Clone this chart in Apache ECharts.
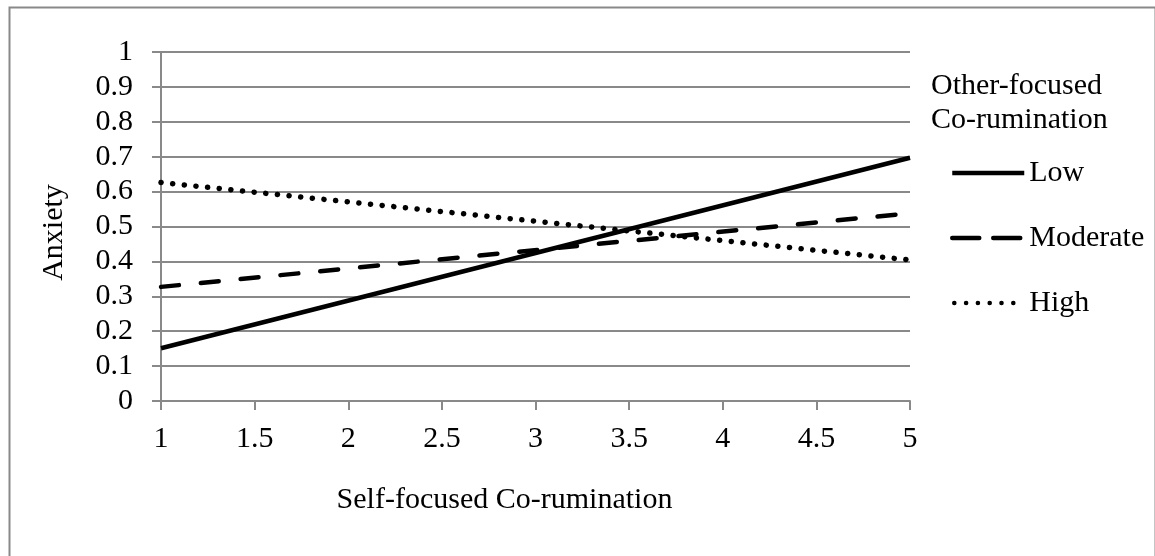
<!DOCTYPE html>
<html>
<head>
<meta charset="utf-8">
<script src="https://cdn.jsdelivr.net/npm/echarts@6/dist/echarts.min.js"></script>
<style>
  html, body { margin: 0; padding: 0; background: #fff; }
  #chart { width: 1155px; height: 556px; }
</style>
</head>
<body>
<div id="chart"></div>
<script>
// ---- data ----
const xValues = [1, 5];
const lowValues = [0.151, 0.697];
const moderateValues = [0.327, 0.538];
const highValues = [0.626, 0.404];
const seriesNames = ['Low', 'Moderate', 'High'];
const legendTitle = 'Other-focused\nCo-rumination';
const xTitle = 'Self-focused Co-rumination';
const yTitle = 'Anxiety';

const FONT = "'Liberation Serif', 'Times New Roman', serif";
const GRAY = '#898989';

const styles = [
  { color: '#000', width: 4.5, type: 'solid', cap: 'butt' },
  { color: '#000', width: 4.5, type: [18, 22], cap: 'round' },
  { color: '#000', width: 5.5, type: [0.1, 11.6], cap: 'round' }
];
const legendStyles = [
  { color: '#000', width: 4.5, type: 'solid', cap: 'butt' },
  { color: '#000', width: 4.5, type: [27, 14], cap: 'round' },
  { color: '#000', width: 4.5, type: [0.1, 11.7], cap: 'round', dashOffset: -2 }
];
const allValues = [lowValues, moderateValues, highValues];

function pairs(ys) { return xValues.map((x, i) => [x, ys[i]]); }

const chart = echarts.init(document.getElementById('chart'), null, { renderer: 'canvas' });
chart.setOption({
  animation: false,
  backgroundColor: '#fff',
  textStyle: { fontFamily: FONT, color: '#000' },
  graphic: [{
    type: 'rect',
    left: 7, top: 5,
    shape: { width: 1146, height: 570 },
    style: { fill: 'none', stroke: GRAY, lineWidth: 2 },
    silent: true
  }],
  title: {
    text: legendTitle,
    left: 926, top: 64,
    textStyle: { fontFamily: FONT, fontWeight: 'normal', fontSize: 30, color: '#000', lineHeight: 34 }
  },
  legend: {
    orient: 'vertical',
    left: 945, top: 153,
    itemWidth: 72, itemHeight: 14,
    itemGap: 35,
    itemStyle: { opacity: 0 },
    data: seriesNames.map((n, i) => ({ name: n, lineStyle: legendStyles[i], itemStyle: { opacity: 0 } })),
    textStyle: { fontFamily: FONT, fontSize: 30, color: '#000' }
  },
  grid: { left: 161, right: 245, top: 52, bottom: 155, containLabel: false },
  xAxis: {
    type: 'value', min: 1, max: 5, interval: 0.5,
    name: xTitle, nameLocation: 'middle', nameGap: 84,
    nameTextStyle: { fontFamily: FONT, fontSize: 30, color: '#000', padding: [0, 62, 0, 0] },
    axisLine: { show: true, lineStyle: { color: GRAY, width: 2 } },
    axisTick: { show: true, length: 9, inside: false, lineStyle: { color: GRAY, width: 2 } },
    axisLabel: { fontFamily: FONT, fontSize: 30, color: '#000', margin: 23 },
    splitLine: { show: false }
  },
  yAxis: {
    type: 'value', min: 0, max: 1, interval: 0.1,
    name: yTitle, nameLocation: 'middle', nameGap: 92,
    nameTextStyle: { fontFamily: FONT, fontSize: 30, color: '#000', padding: [0, 12, 0, 0] },
    axisLine: { show: true, lineStyle: { color: GRAY, width: 2 } },
    axisTick: { show: true, length: 9, inside: false, lineStyle: { color: GRAY, width: 2 } },
    axisLabel: { fontFamily: FONT, fontSize: 30, color: '#000', margin: 28 },
    splitLine: { show: true, lineStyle: { color: GRAY, width: 2 } }
  },
  series: seriesNames.map((n, i) => ({
    name: n, type: 'line', data: pairs(allValues[i]),
    symbol: 'none', color: '#000',
    lineStyle: styles[i]
  }))
});
</script>
</body>
</html>
